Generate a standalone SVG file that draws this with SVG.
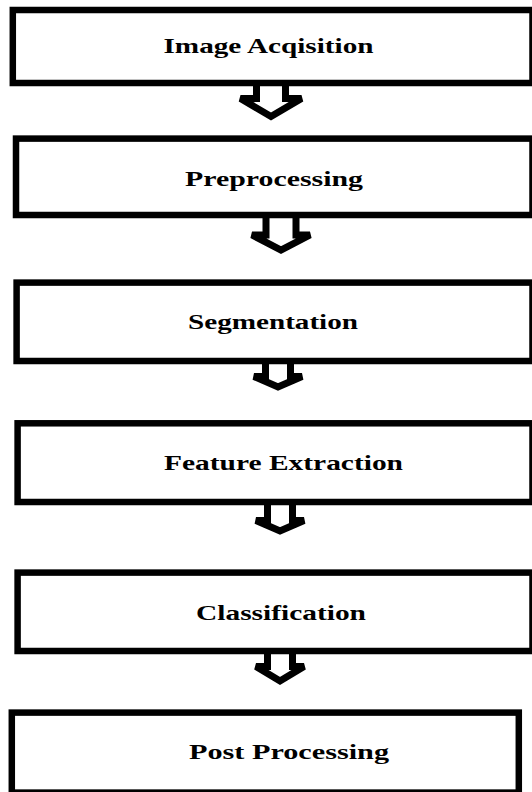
<svg xmlns="http://www.w3.org/2000/svg" width="532" height="792" viewBox="0 0 532 792">
<style>
.box{fill:#fff;stroke:#000;stroke-width:6.5}
.lbl{font-family:"Liberation Serif","Times New Roman",serif;font-weight:bold;font-size:22px;fill:#000;text-anchor:middle}
.arr{fill:#fff;stroke:#000;stroke-width:7;stroke-linejoin:miter;stroke-miterlimit:2.5}
</style>
<rect width="532" height="792" fill="#fff"/>
<g id="connectors">
<path class="arr" d="M256.5,83 V98.5 H240.5 L271,116.5 L301.5,98.5 H285.5 V83"/>
<path class="arr" d="M266,215 V235 H252 L281,250 L310,235 H296 V215"/>
<path class="arr" d="M265.5,361 V376.5 H254 L278,387 L302,376.5 H290.5 V361"/>
<path class="arr" d="M267.5,502 V520.5 H256 L280,531 L304,520.5 H292.5 V502"/>
<path class="arr" d="M267.5,651 V666.5 H256 L280,681 L304,666.5 H292.5 V651"/>
</g>
<g id="node1">
<rect class="box" x="12.8" y="10" width="519.7" height="73"/>
<text class="lbl" x="268.5" y="53" textLength="210" lengthAdjust="spacingAndGlyphs">Image Acqisition</text>
</g>
<g id="node2">
<rect class="box" x="16" y="138.6" width="516.5" height="76.4"/>
<text class="lbl" x="274" y="185.5" textLength="178" lengthAdjust="spacingAndGlyphs">Preprocessing</text>
</g>
<g id="node3">
<rect class="box" x="16.6" y="282.6" width="515.9" height="78.4"/>
<text class="lbl" x="273" y="329" textLength="170" lengthAdjust="spacingAndGlyphs">Segmentation</text>
</g>
<g id="node4">
<rect class="box" x="17.6" y="423.3" width="514.9" height="78.7"/>
<text class="lbl" x="283.5" y="470" textLength="239" lengthAdjust="spacingAndGlyphs">Feature Extraction</text>
</g>
<g id="node5">
<rect class="box" x="17.6" y="572.6" width="514.9" height="78.4"/>
<text class="lbl" x="281" y="620" textLength="170" lengthAdjust="spacingAndGlyphs">Classification</text>
</g>
<g id="node6">
<rect class="box" x="11.8" y="712.6" width="507" height="80"/>
<text class="lbl" x="289" y="759" textLength="200" lengthAdjust="spacingAndGlyphs">Post Processing</text>
</g>
</svg>
